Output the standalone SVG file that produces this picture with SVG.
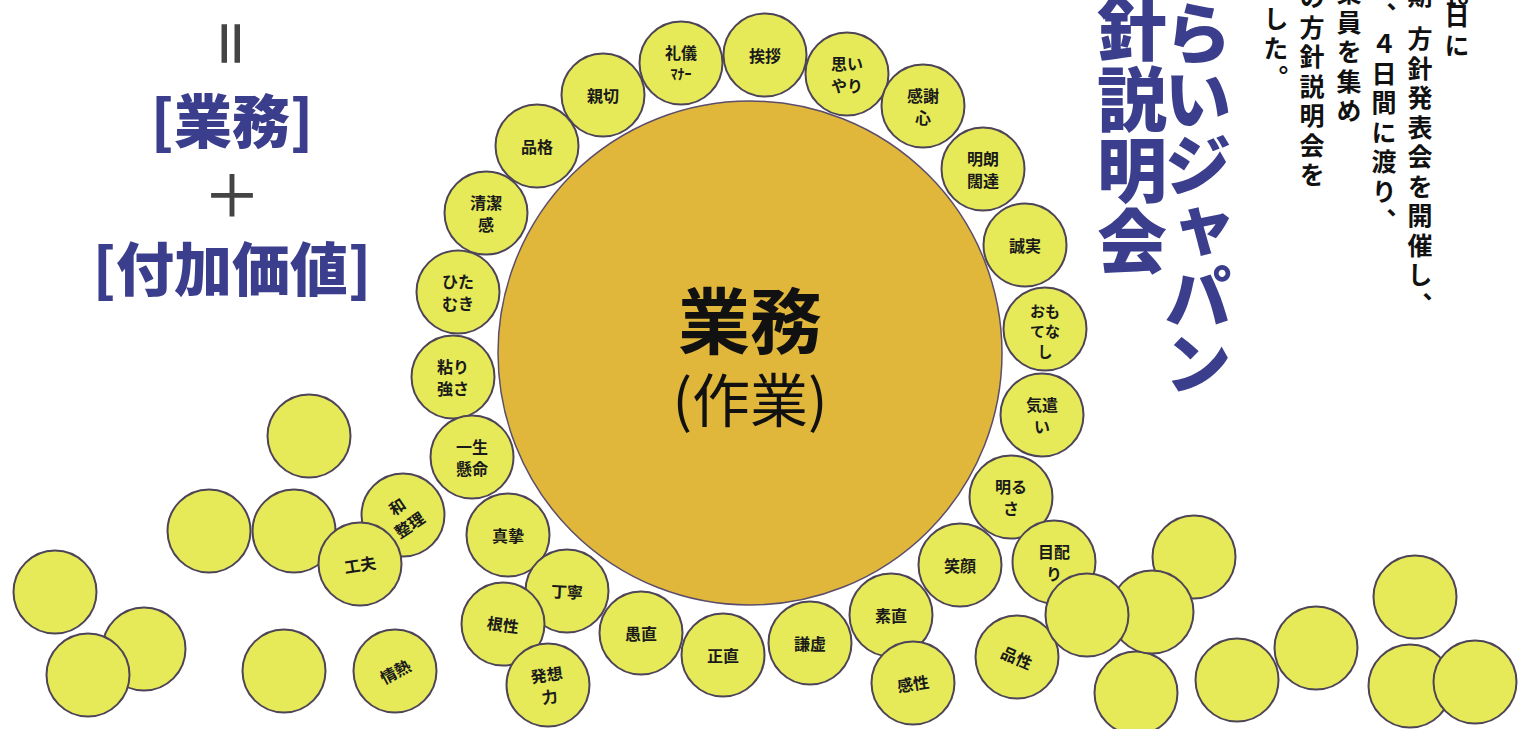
<svg xmlns="http://www.w3.org/2000/svg" width="1518" height="729" viewBox="0 0 1518 729">
<style>
.bg{fill:#ffffff}
.n circle{fill:#e6ea58;stroke:#4d4458;stroke-width:2}
.l{font-family:"Noto Sans CJK JP","Noto Sans",sans-serif;font-weight:700;font-size:16px;fill:#1a1a1a;text-anchor:middle;dominant-baseline:central}
.hw{font-size:14px}
.sm{font-size:15px}
.main circle{fill:#e0b73b;stroke:#5b4d6b;stroke-width:1.5}
.mt{font-family:"Noto Sans CJK JP","Noto Sans",sans-serif;fill:#111;text-anchor:middle;dominant-baseline:central}
.blue{font-family:"Noto Sans CJK JP","Noto Sans",sans-serif;font-weight:900;fill:#3b3e8c;text-anchor:middle;dominant-baseline:central}
.op{font-family:"Noto Sans CJK JP","Noto Sans",sans-serif;fill:#444;text-anchor:middle;dominant-baseline:central}
.vb{font-family:"Noto Sans CJK JP","Noto Sans",sans-serif;font-weight:900;fill:#3b3e8c;writing-mode:vertical-rl;text-orientation:upright}
.vt{font-family:"Noto Sans CJK JP","Noto Sans",sans-serif;font-weight:700;fill:#111;font-size:25px;letter-spacing:4.5px;writing-mode:vertical-rl;text-orientation:upright}
.hn{font-family:"Noto Sans CJK JP","Noto Sans",sans-serif;font-weight:700;fill:#111;font-size:20px;text-anchor:middle}
</style>
<rect class="bg" x="0" y="0" width="1518" height="729"/>

<!-- left formula -->
<g id="formula">
<text class="op" font-size="54" font-weight="700" transform="translate(232.5,43.5) rotate(90)">＝</text>
<text class="blue" font-size="58" x="232" y="118">[業務]</text>
<text class="op" font-size="58" font-weight="500" x="232" y="192">＋</text>
<text class="blue" font-size="58" x="232" y="266">[付加価値]</text>
</g>

<!-- title vertical -->
<g id="title">
<text class="vb" font-size="70" letter-spacing="1" x="1132" y="-7">針説明会</text>
<text class="vb" font-size="68" letter-spacing="-2" x="1198" y="-1">らいジャパン</text>
</g>

<!-- body vertical text -->
<g id="body">
<text class="hn" x="1457" y="5">16</text>
<text class="vt" x="1457" y="3">日に</text>
<text class="vt" x="1420" y="-17">期</text>
<text class="vt" x="1420" y="26">方針発表会を開催し、</text>
<text class="vt" x="1384" y="-28">後、４日間に渡り、</text>
<text class="vt" x="1349" y="-20">業員を集め</text>
<text class="vt" x="1312" y="-15">の方針説明会を</text>
<text class="vt" x="1276" y="6">した。</text>
</g>

<!-- main node -->
<g id="main" class="main">
<circle cx="750" cy="353" r="252"/>
<text class="mt" font-size="72" font-weight="700" x="750" y="316">業務</text>
<text class="mt" font-size="58" font-weight="400" x="750" y="397">(作業)</text>
</g>

<!-- ring nodes -->
<g id="n-hinkaku" class="n"><circle cx="537" cy="146" r="41.5"/><text class="l" x="537" y="146">品格</text></g>
<g id="n-shinsetsu" class="n"><circle cx="603" cy="95" r="41.5"/><text class="l" x="603" y="95">親切</text></g>
<g id="n-reigi" class="n"><circle cx="681" cy="63" r="41.5"/><text class="l" x="681" y="52">礼儀</text><text class="l hw" x="681" y="73">ﾏﾅｰ</text></g>
<g id="n-aisatsu" class="n"><circle cx="765" cy="55" r="41.5"/><text class="l" x="765" y="55">挨拶</text></g>
<g id="n-omoiyari" class="n"><circle cx="847" cy="74" r="41.5"/><text class="l" x="847" y="63">思い</text><text class="l" x="847" y="85">やり</text></g>
<g id="n-kansha" class="n"><circle cx="923" cy="106" r="41.5"/><text class="l" x="923" y="95">感謝</text><text class="l" x="923" y="117">心</text></g>
<g id="n-meirou" class="n"><circle cx="983" cy="169" r="41.5"/><text class="l" x="983" y="158">明朗</text><text class="l" x="983" y="180">闊達</text></g>
<g id="n-seijitsu" class="n"><circle cx="1025" cy="245" r="41.5"/><text class="l" x="1025" y="245">誠実</text></g>
<g id="n-omotenashi" class="n"><circle cx="1045" cy="329" r="41.5"/><text class="l sm" x="1045" y="310">おも</text><text class="l sm" x="1045" y="330">てな</text><text class="l sm" x="1045" y="350">し</text></g>
<g id="n-kizukai" class="n"><circle cx="1042" cy="415" r="41.5"/><text class="l" x="1042" y="404">気遣</text><text class="l" x="1042" y="426">い</text></g>
<g id="n-akarusa" class="n"><circle cx="1011" cy="497" r="41.5"/><text class="l" x="1011" y="486">明る</text><text class="l" x="1011" y="508">さ</text></g>
<g id="n-seiketsu" class="n"><circle cx="486" cy="213" r="41.5"/><text class="l" x="486" y="202">清潔</text><text class="l" x="486" y="224">感</text></g>
<g id="n-hitamuki" class="n"><circle cx="458" cy="292" r="41.5"/><text class="l" x="458" y="281">ひた</text><text class="l" x="458" y="303">むき</text></g>
<g id="n-nebari" class="n"><circle cx="453" cy="377" r="41.5"/><text class="l" x="453" y="366">粘り</text><text class="l" x="453" y="388">強さ</text></g>
<g id="n-isshou" class="n"><circle cx="472" cy="457" r="41.5"/><text class="l" x="472" y="446">一生</text><text class="l" x="472" y="468">懸命</text></g>
<g id="n-shinshi" class="n"><circle cx="508" cy="535" r="41.5"/><text class="l" x="508" y="535">真摯</text></g>
<g id="n-teinei" class="n"><circle cx="567" cy="591" r="41.5"/><text class="l" x="567" y="591" transform="rotate(3 567 591)">丁寧</text></g>
<g id="n-konjou" class="n"><circle cx="503" cy="624" r="41.5"/><text class="l" x="503" y="624" transform="rotate(8 503 624)">根性</text></g>
<g id="n-hassou" class="n"><circle cx="548" cy="685" r="41.5"/><g transform="rotate(-8 548 685)"><text class="l" x="548" y="674">発想</text><text class="l" x="548" y="696">力</text></g></g>
<g id="n-guchoku" class="n"><circle cx="641" cy="633" r="41.5"/><text class="l" x="641" y="633">愚直</text></g>
<g id="n-shoujiki" class="n"><circle cx="723" cy="655" r="41.5"/><text class="l" x="723" y="655">正直</text></g>
<g id="n-kenkyo" class="n"><circle cx="810" cy="643" r="41.5"/><text class="l" x="810" y="643">謙虚</text></g>
<g id="n-sunao" class="n"><circle cx="891" cy="615" r="41.5"/><text class="l" x="891" y="615">素直</text></g>
<g id="n-kansei" class="n"><circle cx="913" cy="683" r="41.5"/><text class="l" x="913" y="683" transform="rotate(-9 913 683)">感性</text></g>
<g id="n-egao" class="n"><circle cx="960" cy="565" r="41.5"/><text class="l" x="960" y="565">笑顔</text></g>
<g id="n-hinsei" class="n"><circle cx="1017" cy="657" r="41.5"/><text class="l" x="1017" y="657" transform="rotate(24 1017 657)">品性</text></g>
<g id="n-kubari" class="n"><circle cx="1054" cy="562" r="41.5"/><text class="l" x="1054" y="551">目配</text><text class="l" x="1054" y="573">り</text></g>

<!-- loose nodes, left -->
<g id="p-j" class="n"><circle cx="309" cy="436" r="41.5"/></g>
<g id="p-k" class="n"><circle cx="209" cy="531" r="41.5"/></g>
<g id="p-l" class="n"><circle cx="294" cy="531" r="41.5"/></g>
<g id="n-seiri" class="n"><circle cx="403" cy="515" r="41.5"/><g transform="rotate(-34 403 515)"><text class="l" x="403" y="504">和</text><text class="l" x="403" y="526">整理</text></g></g>
<g id="n-kufuu" class="n"><circle cx="360" cy="564" r="41.5"/><text class="l" x="360" y="564" transform="rotate(-9 360 564)">工夫</text></g>
<g id="p-n" class="n"><circle cx="55" cy="592" r="41.5"/></g>
<g id="p-o" class="n"><circle cx="144" cy="649" r="41.5"/></g>
<g id="p-p" class="n"><circle cx="88" cy="675" r="41.5"/></g>
<g id="p-q" class="n"><circle cx="284" cy="671" r="41.5"/></g>
<g id="n-jounetsu" class="n"><circle cx="395" cy="671" r="41.5"/><text class="l" x="395" y="671" transform="rotate(-28 395 671)">情熱</text></g>

<!-- loose nodes, right -->
<g id="p-c" class="n"><circle cx="1194" cy="557" r="41.5"/></g>
<g id="p-d" class="n"><circle cx="1136" cy="693" r="41.5"/></g>
<g id="p-b" class="n"><circle cx="1152" cy="612" r="41.5"/></g>
<g id="p-a" class="n"><circle cx="1087" cy="615" r="41.5"/></g>
<g id="p-e" class="n"><circle cx="1237" cy="680" r="41.5"/></g>
<g id="p-f" class="n"><circle cx="1316" cy="648" r="41.5"/></g>
<g id="p-g" class="n"><circle cx="1415" cy="597" r="41.5"/></g>
<g id="p-h" class="n"><circle cx="1410" cy="686" r="41.5"/></g>
<g id="p-i" class="n"><circle cx="1475" cy="682" r="41.5"/></g>

<g id="connectors"></g>
</svg>
